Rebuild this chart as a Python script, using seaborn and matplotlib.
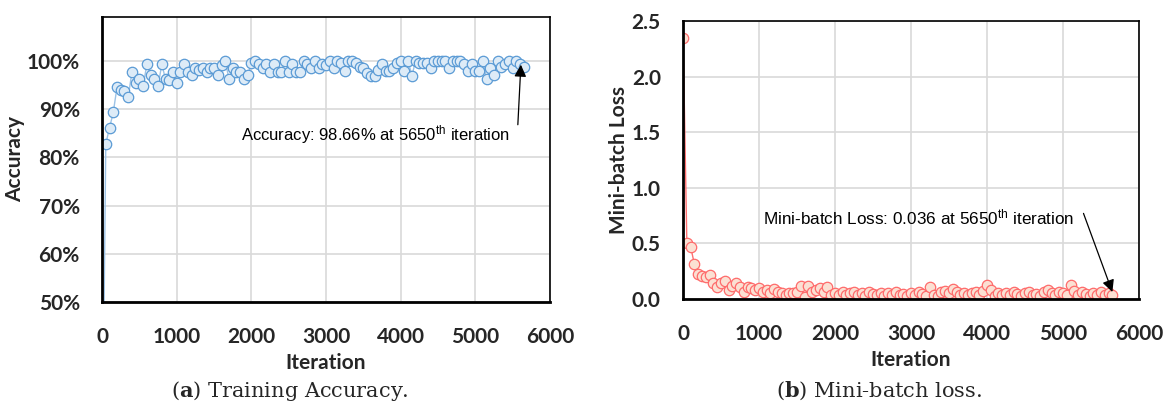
import seaborn as sns
import pandas as pd
import matplotlib.pyplot as plt
from matplotlib.ticker import FuncFormatter

# logged every 50 iterations, plus the very first one
iters = [1] + list(range(50, 5651, 50))

accuracy = [0.10,
    0.828, 0.861, 0.893, 0.945, 0.940, 0.937, 0.924, 0.977, 0.954, 0.962,
    0.947, 0.993, 0.971, 0.962, 0.947, 0.993, 0.962, 0.961, 0.977, 0.954,
    0.977, 0.994, 0.977, 0.971, 0.985, 0.981, 0.985, 0.977, 0.985, 0.985,
    0.970, 0.992, 1.000, 0.962, 0.985, 0.977, 0.977, 0.962, 0.970, 0.995,
    1.000, 0.994, 0.985, 0.994, 0.977, 0.994, 0.977, 0.977, 1.000, 0.977,
    0.994, 0.977, 0.977, 1.000, 0.994, 0.985, 1.000, 0.985, 0.994,
    0.992, 1.000, 0.985, 1.000, 0.995, 0.978, 1.000, 1.000, 0.995, 0.988,
    0.985, 0.975, 0.969, 0.969, 0.981, 0.994, 0.978, 0.978, 0.985, 0.995,
    1.000, 0.978, 1.000, 0.969, 1.000, 0.995, 0.995, 0.995, 0.985, 1.000,
    1.000, 1.000, 1.000, 0.985, 1.000, 1.000, 1.000, 0.994, 0.978, 0.994,
    0.978, 0.978, 1.000, 0.962, 0.985, 0.971, 1.000, 0.988, 0.994, 1.000,
    0.985, 1.000, 0.994, 0.9866]

loss = [2.35,
    0.505, 0.469, 0.311, 0.224, 0.206, 0.195, 0.215, 0.140, 0.110, 0.140,
    0.161, 0.081, 0.120, 0.140, 0.105, 0.066, 0.110, 0.096, 0.081, 0.096,
    0.066, 0.081, 0.057, 0.087, 0.066, 0.051, 0.036, 0.057, 0.051, 0.066,
    0.117, 0.021, 0.120, 0.066, 0.081, 0.096, 0.066, 0.110, 0.036, 0.051,
    0.040, 0.060, 0.035, 0.050, 0.065, 0.040, 0.055, 0.030, 0.060, 0.045,
    0.035, 0.055, 0.030, 0.050, 0.040, 0.060, 0.035, 0.045, 0.030,
    0.050, 0.035, 0.060, 0.045, 0.030, 0.110, 0.040, 0.025, 0.060, 0.070,
    0.050, 0.090, 0.060, 0.040, 0.055, 0.035, 0.050, 0.060, 0.040, 0.070,
    0.125, 0.080, 0.030, 0.050, 0.040, 0.055, 0.035, 0.060, 0.045, 0.030,
    0.050, 0.060, 0.035, 0.045, 0.030, 0.060, 0.080, 0.050, 0.040, 0.065,
    0.050, 0.035, 0.125, 0.070, 0.040, 0.060, 0.045, 0.030, 0.055, 0.040,
    0.060, 0.035, 0.050, 0.036]

df = pd.DataFrame({'Iteration': iters, 'Accuracy': accuracy, 'Loss': loss})

sns.set_theme(style='white')
plt.rcParams['font.family'] = ['Lato', 'DejaVu Sans']
plt.rcParams['mathtext.fontset'] = 'custom'
plt.rcParams['mathtext.bf'] = 'DejaVu Serif:bold'
plt.rcParams['mathtext.default'] = 'regular'

fig = plt.figure(figsize=(11.69, 4.03), dpi=100)
ax1 = fig.add_axes([0.0873, 0.2506, 0.3832, 0.7074])
ax2 = fig.add_axes([0.5843, 0.2580, 0.3900, 0.6900])

sns.lineplot(data=df, x='Iteration', y='Accuracy', ax=ax1, color='#9DC3E6', lw=1,
             marker='o', markersize=7.5, markerfacecolor='#DDEBF7',
             markeredgecolor='#5B9BD5', markeredgewidth=0.9)
sns.lineplot(data=df, x='Iteration', y='Loss', ax=ax2, color='#FF6F6F', lw=1,
             marker='o', markersize=7.5, markerfacecolor='#FBE0D3',
             markeredgecolor='#FF6B6B', markeredgewidth=0.9)

ax1.set_ylim(0.5, 1.091)
ax1.set_yticks([0.5, 0.6, 0.7, 0.8, 0.9, 1.0])
ax1.yaxis.set_major_formatter(FuncFormatter(lambda v, p: f'{v*100:.0f}%'))
ax1.set_ylabel('Accuracy', fontsize=15, fontweight='bold', labelpad=1)

ax2.set_ylim(0, 2.5)
ax2.set_yticks([0, 0.5, 1.0, 1.5, 2.0, 2.5])
ax2.yaxis.set_major_formatter(FuncFormatter(lambda v, p: f'{v:.1f}'))
ax2.set_ylabel('Mini-batch Loss', fontsize=15, fontweight='bold', labelpad=2)

for ax in (ax1, ax2):
    ax.set_xlim(0, 6000)
    ax.set_xticks(range(0, 6001, 1000))
    ax.set_xlabel('Iteration', fontsize=15, fontweight='bold', labelpad=4)
    ax.grid(True, color='#D9D9D9', lw=1.2)
    ax.set_axisbelow(True)
    ax.tick_params(axis='x', length=0, pad=18, labelsize=15)
    ax.tick_params(axis='y', length=0, pad=16, labelsize=15)
    for lab in ax.get_xticklabels() + ax.get_yticklabels():
        lab.set_fontweight('bold')
    for s in ax.spines.values():
        s.set_color('black')
        s.set_linewidth(1.2)
    ax.spines['left'].set_linewidth(2)
    ax.spines['bottom'].set_linewidth(2)

narrow = ['Liberation Sans Narrow', 'Liberation Sans']
arrow = dict(arrowstyle='-|>', color='black', lw=0.9, mutation_scale=18,
             shrinkA=0, shrinkB=0)

ax1.text(5462, 0.847, 'Accuracy: 98.66% at 5650$^{th}$ iteration',
         ha='right', va='center', fontsize=12, family=narrow, color='black')
ax1.annotate('', xy=(5610, 0.992), xytext=(5569, 0.8675), arrowprops=arrow)

ax2.text(5151, 0.735, 'Mini-batch Loss: 0.036 at 5650$^{th}$ iteration',
         ha='right', va='center', fontsize=12.3, family=narrow, color='black')
ax2.annotate('', xy=(5650, 0.063), xytext=(5270, 0.77), arrowprops=arrow)

fig.text(0.248, 0.03, '($\\mathbf{a}$) Training Accuracy.', ha='center', va='center',
         fontsize=15, family='DejaVu Serif')
fig.text(0.752, 0.03, '($\\mathbf{b}$) Mini-batch loss.', ha='center', va='center',
         fontsize=15, family='DejaVu Serif')

fig.savefig('out.png', dpi=100)
